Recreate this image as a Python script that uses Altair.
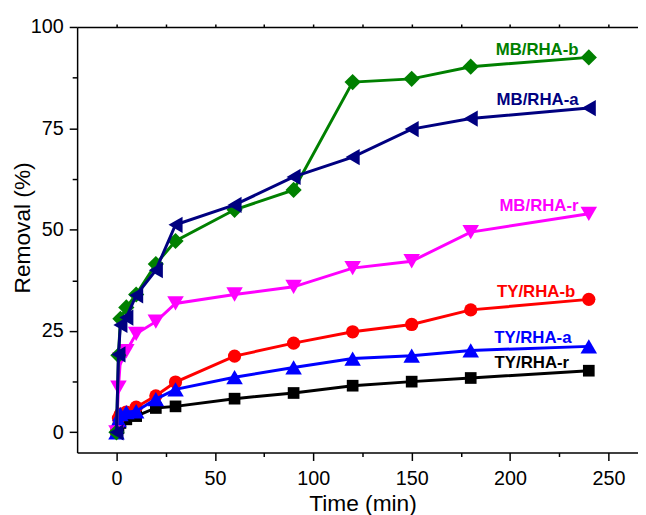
import altair as alt
import pandas as pd

# ---- data ----
time = [0, 1, 2, 5, 10, 20, 30, 60, 90, 120, 150, 180, 240]
names = ["TY/RHA-r", "TY/RHA-b", "TY/RHA-a", "MB/RHA-r", "MB/RHA-b", "MB/RHA-a"]
ty_rha_r = [0, 1.0, 2.3, 3.2, 4.0, 6.0, 6.4, 8.3, 9.7, 11.5, 12.5, 13.4, 15.2]
ty_rha_b = [0, 3.5, 4.5, 5.0, 6.2, 9.0, 12.4, 18.8, 22.0, 24.8, 26.6, 30.2, 32.8]
ty_rha_a = [0, 3.0, 4.5, 5.0, 5.2, 8.2, 10.6, 13.6, 16.0, 18.2, 18.9, 20.2, 21.2]
mb_rha_r = [0, 11.0, 18.0, 20.0, 24.3, 27.3, 31.8, 34.0, 35.9, 40.5, 42.2, 49.4, 53.9]
mb_rha_b = [0, 19.0, 28.0, 30.8, 34.0, 41.5, 47.2, 54.9, 59.8, 86.4, 87.2, 90.2, 92.5]
mb_rha_a = [0, 19.2, 26.5, 28.3, 33.8, 40.0, 51.2, 56.1, 63.0, 67.9, 74.8, 77.4, 80.0]
values = [ty_rha_r, ty_rha_b, ty_rha_a, mb_rha_r, mb_rha_b, mb_rha_a]

# label anchor points (right end / baseline of each series label)
label_x = [230.0, 233.1, 231.2, 234.8, 234.8, 234.8]
label_y = [15.9, 33.5, 22.1, 54.5, 93.1, 80.7]

x_ticks = [0, 50, 100, 150, 200, 250]
x_minor = [25, 75, 125, 175, 225]
x_top = [0, 25, 50, 75, 100, 125, 150, 175, 200, 225, 250]
y_ticks = [0, 25, 50, 75, 100]
y_minor = [12.5, 37.5, 62.5, 87.5]

# ---- styles ----
colors = ["#000000", "#FF0000", "#0000FF", "#FF00FF", "#008000", "#000080"]
shapes = ["square", "circle", "triangle-up", "triangle-down", "diamond", "triangle-left"]
sizes = [140, 180, 280, 280, 270, 270]
FONT = "Liberation Sans"

rows = []
for n, vals in zip(names, values):
    for t, v in zip(time, vals):
        rows.append({"series": n, "time": t, "removal": v})
df = pd.DataFrame(rows)

xs = alt.Scale(domain=[-20, 265], nice=False, zero=False)
ys = alt.Scale(domain=[-5, 100], nice=False, zero=False)

# axis layers (invisible marks)
axis_main = alt.Chart(df).mark_point(opacity=0).encode(
    x=alt.X("time:Q", scale=xs, axis=alt.Axis(
        orient="bottom", values=x_ticks, tickSize=8, labelPadding=8,
        labelFontSize=20, title="Time (min)", titleFontSize=23, titlePadding=5,
        titleX=289)),
    y=alt.Y("removal:Q", scale=ys, axis=alt.Axis(
        orient="left", values=y_ticks, tickSize=8, labelPadding=6,
        labelFontSize=20, title="Removal (%)", titleFontSize=23, titlePadding=-4,
        titleY=203)),
)
axis_minor = alt.Chart(df).mark_point(opacity=0).encode(
    x=alt.X("time:Q", scale=xs, axis=alt.Axis(
        orient="bottom", values=x_minor, tickSize=4, labels=False, domain=False, title=None)),
    y=alt.Y("removal:Q", scale=ys, axis=alt.Axis(
        orient="left", values=y_minor, tickSize=5, labels=False, domain=False, title=None)),
)
axis_top = alt.Chart(df).mark_point(opacity=0).encode(
    x=alt.X("time:Q", scale=xs, axis=alt.Axis(
        orient="top", values=x_top, tickSize=3, labels=False, title=None)),
    y=alt.Y("removal:Q", scale=ys, axis=None),
)

layers = [axis_main, axis_minor, axis_top]
for n, c, s, sz in zip(names, colors, shapes, sizes):
    d = df[df["series"] == n]
    base = alt.Chart(d).encode(
        x=alt.X("time:Q", scale=xs, axis=None),
        y=alt.Y("removal:Q", scale=ys, axis=None),
    )
    layers.append(base.mark_line(color=c, strokeWidth=3))
    layers.append(base.mark_point(shape=s, filled=True, size=sz, color=c, opacity=1, strokeWidth=0))

lab = pd.DataFrame({"series": names, "lx": label_x, "ly": label_y})
labels = alt.Chart(lab).mark_text(
    align="right", baseline="alphabetic", fontSize=17, fontWeight="bold", font=FONT
).encode(
    x=alt.X("lx:Q", scale=xs, axis=None),
    y=alt.Y("ly:Q", scale=ys, axis=None),
    text="series:N",
    color=alt.Color("series:N", scale=alt.Scale(domain=names, range=colors), legend=None),
)
layers.append(labels)

chart = alt.layer(*layers).resolve_axis(
    x="independent", y="independent"
).properties(
    width=568, height=431,
    autosize=alt.AutoSizeParams(type="none"),
    padding={"left": 70, "top": 16, "right": 0, "bottom": 60},
).configure_view(stroke=None).configure_axis(
    labelFont=FONT, titleFont=FONT, titleFontWeight="normal",
    labelColor="black", titleColor="black", domainColor="black", tickColor="black",
    domainWidth=1.5, tickWidth=1.5, grid=False,
)

chart.save("out.html", embed_options={"renderer": "svg", "actions": False})
